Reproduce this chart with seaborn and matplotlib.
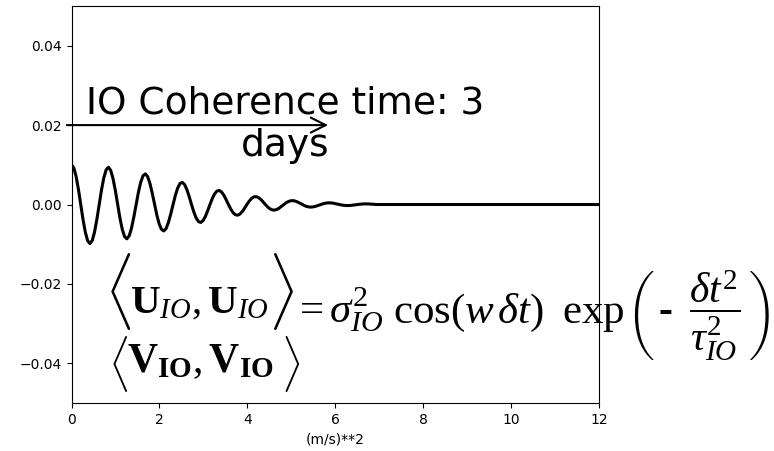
import numpy as np
import pandas as pd
import matplotlib
matplotlib.use("Agg")
import matplotlib.pyplot as plt
import seaborn as sns

# ---- data ----
time_step = 0.0525          # days between samples
coherence_values = [
    0.010000, 0.009237, 0.007063, 0.003821, 0.0, -0.003806, -0.007006, -0.009126,
    -0.009839, -0.009052, -0.006893, -0.003714, 0.0, 0.003670, 0.006728, 0.008729,
    0.009373, 0.008589, 0.006514, 0.003496, 0.0, -0.003426, -0.006255, -0.008082,
    -0.008643, -0.007888, -0.005958, -0.003185, 0.0, 0.003095, 0.005630, 0.007245,
    0.007717, 0.007014, 0.005276, 0.002809, 0.0, -0.002709, -0.004906, -0.006288,
    -0.006670, -0.006038, -0.004524, -0.002399, 0.0, 0.002294, 0.004138, 0.005283,
    0.005582, 0.005032, 0.003755, 0.001983, 0.0, -0.001881, -0.003380, -0.004298,
    -0.004522, -0.004060, -0.003017, -0.001587, 0.0, 0.001493, 0.002672, 0.003384,
    0.003546, 0.003172, 0.002348, 0.001230, 0.0, -0.001148, -0.002045, -0.002580,
    -0.002693, -0.002399, -0.001768, -0.000922, 0.0, 0.000854, 0.001516, 0.001904,
    0.001980, 0.001757, 0.001290, 0.000670, 0.0, -0.000615, -0.001087, -0.001361,
    -0.001409, -0.001245, -0.000910, -0.000471, 0.0, 0.000429, 0.000755, 0.000941,
    0.000970, 0.000854, 0.000622, 0.000321, 0.0, -0.000290, -0.000508, -0.000630,
    -0.000647, -0.000567, -0.000411, -0.000211, 0.0, 0.000189, 0.000331, 0.000408,
    0.000418, 0.000365, 0.000264, 0.000135, 0.0, -0.000120, -0.000209, -0.000257,
    -0.000261, -0.000227, -0.000163, -0.000083, 0.0, 0.000074, 0.000127, 0.000156,
    0.000158, 0.000137, 0.000098, 0.000050, 0.0,
]
tail_time = 12.0
tail_value = 0.0
x_ticks = [0, 2, 4, 6, 8, 10, 12]
y_ticks = [-0.04, -0.02, 0.00, 0.02, 0.04]
x_label = "(m/s)**2"
annotation_text = "IO Coherence time: 3\ndays"

times = list(np.round(np.arange(len(coherence_values)) * time_step, 4)) + [tail_time]
values = coherence_values + [tail_value]
df = pd.DataFrame({"t": times, "v": values})

# ---- figure ----
plt.rcParams["mathtext.fontset"] = "custom"
plt.rcParams["mathtext.rm"] = "Liberation Serif"
plt.rcParams["mathtext.it"] = "Liberation Serif:italic"
plt.rcParams["mathtext.bf"] = "Liberation Serif:bold"

W, H = 774, 451
fig = plt.figure(figsize=(W / 100, H / 100), dpi=100)
ax = fig.add_axes([71.5 / W, (H - 403) / H, (599 - 71.5) / W, (403 - 6) / H])

sns.lineplot(data=df, x="t", y="v", color="black", linewidth=2.2, ax=ax)
ax.set_xlim(0, 12)
ax.set_ylim(-0.05, 0.05)
ax.set_xticks(x_ticks)
ax.set_yticks(y_ticks)
ax.set_yticklabels([f"{v:.2f}".replace("-", "\u2212") for v in y_ticks])
ax.set_xlabel(x_label)
ax.set_ylabel("")

ax.annotate("", xy=(5.9, 0.02), xytext=(-0.17, 0.02),
            arrowprops=dict(arrowstyle="->", color="black", lw=1.5, mutation_scale=27),
            annotation_clip=False)
ax.text(4.85, 0.0201, annotation_text, ha="center", va="center", fontsize=27)


def put(px, py, s, size, ha="left", va="baseline", **kw):
    fig.text(px / W, 1 - py / H, s, fontsize=size, ha=ha, va=va, **kw)


# line 1, left part
put(104, 291.5, r"$\langle$", 46, va="center")
put(130, 313, r"$\mathbf{U}_{IO},\mathbf{U}_{IO}$", 29.5)
put(268, 291.5, r"$\rangle$", 46, va="center")
# line 1, right part
put(293, 323, r"$=\sigma^{2}_{IO}$", 31)
put(393, 323, r"$\cos($", 31)
put(464, 323, r"$w\,\delta t)$", 31)
put(562, 323, r"$\mathrm{exp}$", 31)
put(626, 323, "$\\left(\\,\\mathbf{\u2010}\\;\\;\\dfrac{\\delta t^{2}}{\\tau^{2}_{IO}}\\,\\right)$", 30)
# line 2
put(108.5, 363.5, r"$\langle$", 33, va="center")
put(127, 372, r"$\mathbf{V}_{\mathbf{IO}},\mathbf{V}_{\mathbf{IO}}$", 30)
put(281, 363.5, r"$\rangle$", 33, va="center")

fig.savefig("out.png", dpi=100)
